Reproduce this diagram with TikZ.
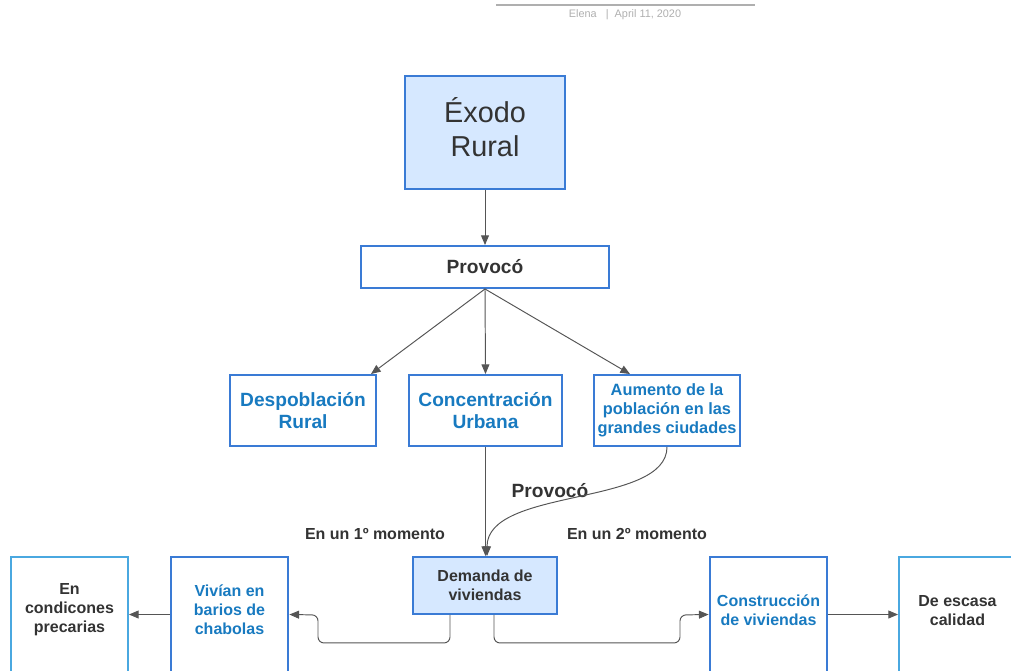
\documentclass[tikz,border=0pt]{standalone}
\usepackage{fontspec}
\setmainfont{Liberation Sans}
\usetikzlibrary{positioning, arrows.meta, calc}
\definecolor{cajaazul}{RGB}{58,123,213}
\definecolor{cajaclara}{RGB}{74,168,224}
\definecolor{fondoazul}{RGB}{214,232,255}
\definecolor{textoazul}{RGB}{24,122,192}
\definecolor{textooscuro}{RGB}{51,51,51}
\definecolor{linea}{RGB}{85,85,85}
\definecolor{cabecera}{RGB}{175,175,175}

\begin{document}
\begin{tikzpicture}[x=0.02cm, y=-0.02cm,
        caja/.style={draw=cajaazul, line width=1.1pt, rectangle, inner sep=0pt, align=center},
        grande/.style={font=\fontsize{10.9}{13}\selectfont\bfseries, text=textoazul},
        medio/.style={font=\fontsize{9.1}{10.8}\selectfont\bfseries},
        flecha/.style={-{Triangle[length=5.5pt, width=4.5pt]}, draw=linea, line width=0.55pt}]
    \useasboundingbox (0,0) rectangle (1011,670);

    % Cabecera
    \draw[cabecera, line width=1.1pt] (496,5) -- (755,5);
    \node[font=\fontsize{6.2}{7}\selectfont, text=cabecera] (autor) at (625,15) {Elena\ \ \ |\ \ April 11, 2020};

    % Nivel superior
    \node[caja, fill=fondoazul, minimum width=3.2cm, minimum height=2.26cm, text depth=6pt,
          font=\fontsize{16.4}{19.3}\selectfont, text=textooscuro] (exodo) at (485,132.5) {Éxodo\\Rural};
    \node[caja, minimum width=4.96cm, minimum height=0.84cm,
          font=\fontsize{10.9}{13}\selectfont\bfseries, text=textooscuro] (provoco) at (485,267) {Provocó};

    % Consecuencias
    \node[caja, grande, minimum width=2.92cm, minimum height=1.42cm] (despob) at (303,410.5) {Despoblación\\Rural};
    \node[caja, grande, minimum width=3.06cm, minimum height=1.42cm] (concen) at (485.5,410.5) {Concentración\\Urbana};
    \node[caja, font=\fontsize{9.3}{10.8}\selectfont\bfseries, text=textoazul,
          minimum width=2.92cm, minimum height=1.42cm] (aumento) at (667,410.5) {Aumento de la\\población en las\\grandes ciudades};

    % Demanda y cajas inferiores
    \node[caja, medio, fill=fondoazul, text=textooscuro, minimum width=2.88cm, minimum height=1.14cm] (demanda) at (485,585.5) {Demanda de\\viviendas};
    \node[caja, draw=cajaclara, minimum width=2.34cm, minimum height=2.3cm] (condic) at (69.5,614.5) {};
    \node[caja, line width=1.6pt, minimum width=2.34cm, minimum height=2.3cm] (vivian) at (229.5,614.5) {};
    \node[caja, line width=1.6pt, minimum width=2.34cm, minimum height=2.3cm] (constr) at (768.5,614.5) {};
    \node[caja, draw=cajaclara, minimum width=2.34cm, minimum height=2.3cm] (escasa) at (957.5,614.5) {};
    \node[medio, align=center, text=textooscuro] (condicT) at (69.5,610) {En\\condicones\\precarias};
    \node[medio, align=center, text=textoazul] (vivianT) at (229.5,610) {Vivían en\\barios de\\chabolas};
    \node[medio, align=center, text=textoazul] (constrT) at (768.5,610.5) {Construcción\\de viviendas};
    \node[medio, align=center, text=textooscuro] (escasaT) at (957.5,610.5) {De escasa\\calidad};

    % Etiquetas
    \node[font=\fontsize{10.9}{13}\selectfont\bfseries, text=textooscuro] (provoco2) at (550,491) {Provocó};
    \node[medio, text=textooscuro] (momento1) at (375,534) {En un 1º momento};
    \node[medio, text=textooscuro] (momento2) at (637,534) {En un 2º momento};

    % Flechas
    \draw[flecha] (exodo) -- (provoco);
    \draw[flecha] (provoco.south) -- ([xshift=-0.12cm]despob.north east);
    \draw[flecha] (provoco.south) -- (concen.north);
    \draw[flecha] (provoco.south) -- ($(aumento.north west)!0.5!(aumento.north)$);
    \draw[flecha] (concen.south) -- (concen.south |- demanda.north);
    \draw[flecha] (aumento.south) .. controls +(0,60) and +(0,-69) .. ([xshift=0.04cm]demanda.north);
    \draw[flecha, rounded corners=0.12cm] ([xshift=-0.7cm]demanda.south) -- ++(0,28) -| ++(-132,-28) -- (vivian.east);
    \draw[flecha, rounded corners=0.12cm] ([xshift=0.18cm]demanda.south) -- ++(0,28) -| ++(186,-28) -- (constr.west);
    \draw[flecha] (vivian) -- (condic);
    \draw[flecha] (constr) -- (escasa);
\end{tikzpicture}
\end{document}
